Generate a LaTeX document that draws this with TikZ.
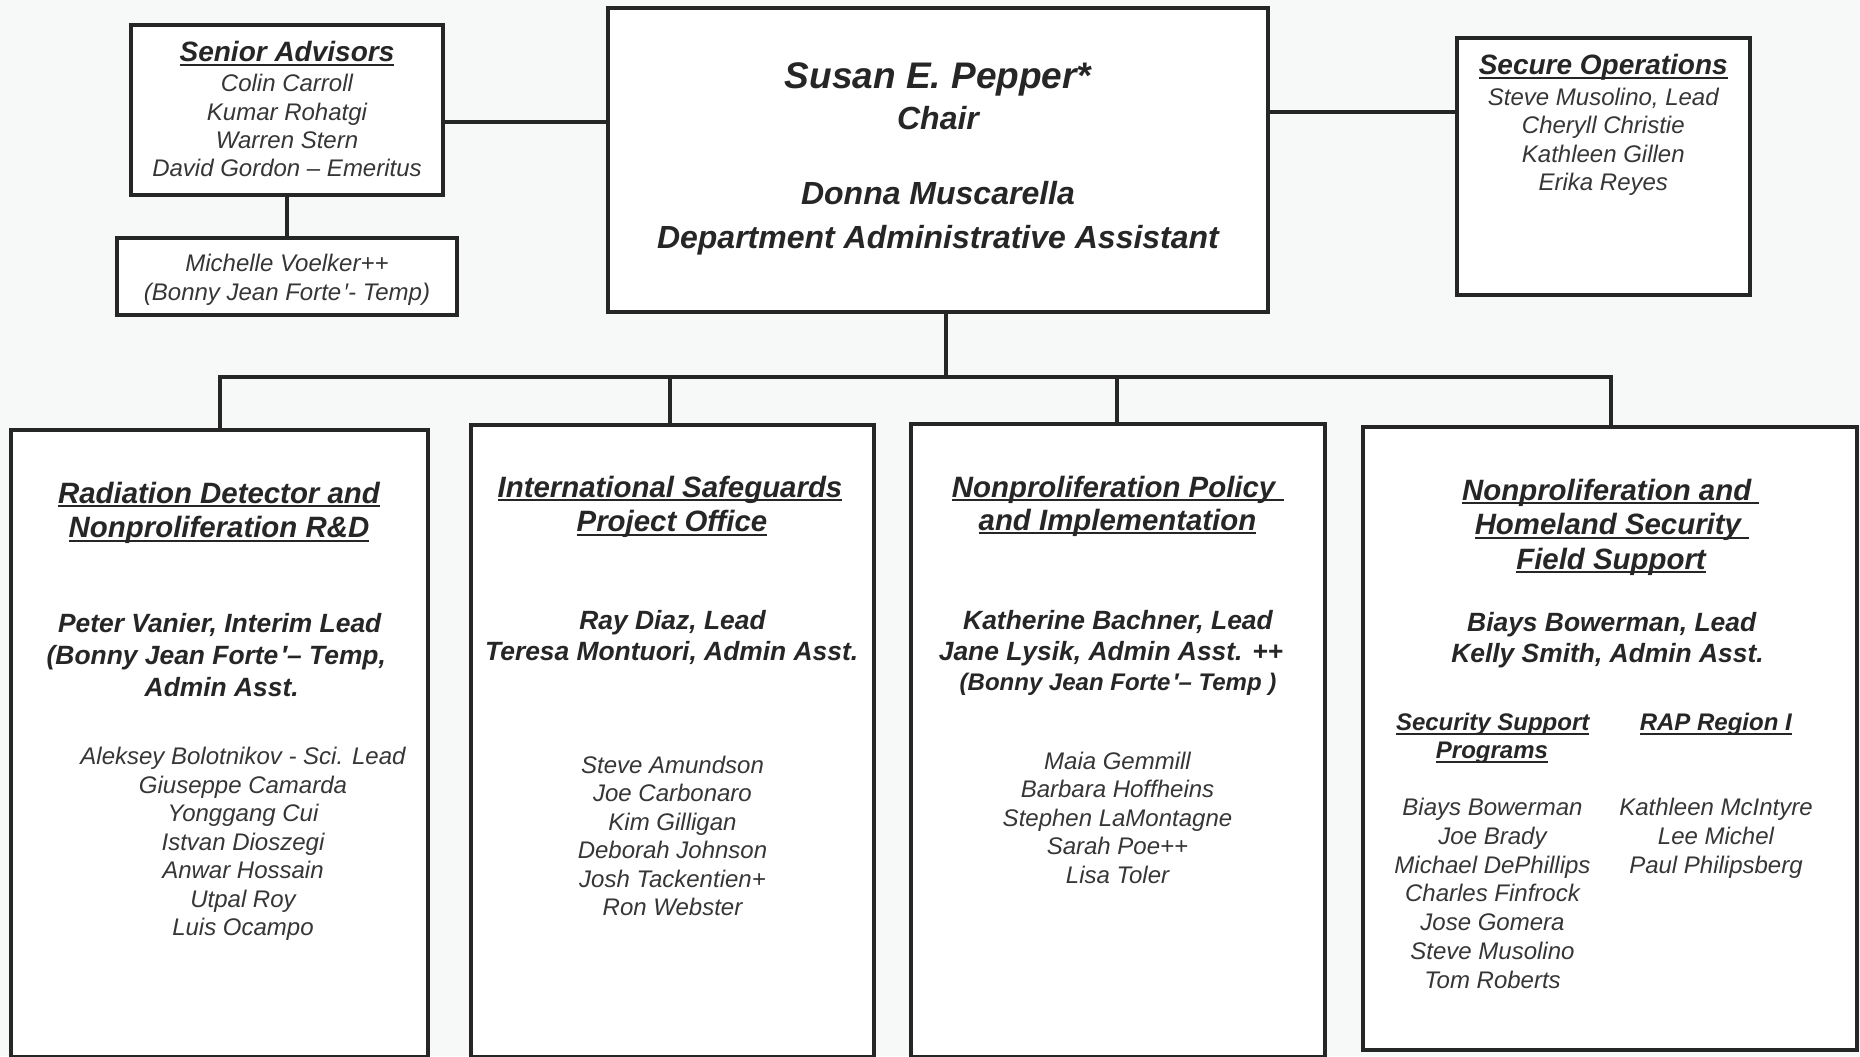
\documentclass[tikz,border=0pt]{standalone}
\usepackage{fontspec}
\setmainfont{Liberation Sans}
\definecolor{ink}{HTML}{262626}
\definecolor{txt}{HTML}{363636}
\definecolor{bgc}{HTML}{F7F8F8}
\newcommand{\ulx}[1]{\setbox0\hbox{#1}\rlap{\rule[-2.1pt]{\wd0}{0.9pt}}\box0}
\newcommand{\frt}{Forte\kern1.2pt′}
\begin{document}
\begin{tikzpicture}[x=0.5pt,y=-0.5pt,
  box/.style={draw=ink, line width=2pt, fill=white, inner sep=0pt, outer sep=0pt},
  con/.style={draw=ink, line width=2pt},
  nm/.style={font=\fontsize{12}{14}\selectfont\itshape, text=txt, anchor=base, inner sep=0pt},
  ld/.style={font=\fontsize{13.2}{15}\selectfont\bfseries\itshape, text=ink, anchor=base, inner sep=0pt},
  hd/.style={font=\fontsize{14.7}{17}\selectfont\bfseries\itshape, text=ink, anchor=base, inner sep=0pt},
  hs/.style={font=\fontsize{14}{16}\selectfont\bfseries\itshape, text=ink, anchor=base, inner sep=0pt},
  sb/.style={font=\fontsize{12}{14}\selectfont\bfseries\itshape, text=ink, anchor=base, inner sep=0pt},
  ch/.style={font=\fontsize{16}{18}\selectfont\bfseries\itshape, text=ink, anchor=base, inner sep=0pt}]
\fill[bgc] (0,0) rectangle (1860,1056);
\useasboundingbox (0,0) rectangle (1860,1056);

% boxes
\node[box, minimum width=156pt, minimum height=85pt] (sa) at (287,110) {};
\node[box, minimum width=170pt, minimum height=38.5pt] (mv) at (287,276.7) {};
\node[box, minimum width=330pt, minimum height=151.7pt] (chair) at (938,160) {};
\node[box, minimum width=146.7pt, minimum height=128.3pt] (so) at (1603.3,166.7) {};
\node[box, minimum width=208.5pt, minimum height=313.5pt] (b1) at (219.5,743.5) {};
\node[box, minimum width=201.5pt, minimum height=316pt] (b2) at (672.5,741) {};
\node[box, minimum width=207pt, minimum height=316.5pt] (b3) at (1117.5,740.5) {};
\node[box, minimum width=247pt, minimum height=311.5pt] (b4) at (1610,738.5) {};

% connectors
\coordinate (ya) at (500,121.7);
\coordinate (yb) at (1350,111.7);
\coordinate (bl) at (219.5,377.3);
\coordinate (bs) at (946,377.3);
\coordinate (b2j) at (670.2,377.3);
\coordinate (b3j) at (1117.3,377.3);
\coordinate (br) at (1611.4,377.3);
\draw[con] (sa.east |- ya) -- (chair.west |- ya);
\draw[con] (chair.east |- yb) -- (so.west |- yb);
\draw[con] (sa.south) -- (mv.north);
\draw[con] (chair.south -| bs) -- (bs);
\draw[con] (b1.north -| bl) -- (bl) -- (br) -- (b4.north -| br);
\draw[con] (b2j) -- (b2.north -| b2j);
\draw[con] (b3j) -- (b3.north -| b3j);

% Senior advisors
\node[hs] (sat) at (287,61.7) {\ulx{Senior Advisors}};
\foreach \t [count=\i] in {Colin Carroll, Kumar Rohatgi, Warren Stern, David Gordon – Emeritus}
  \node[nm, name=san\i] at (287, {91.7+(\i-1)*28.33}) {\t};
\node[nm] (mv1) at (287,271.7) {Michelle Voelker++};
\node[nm] (mv2) at (287,300) {(Bonny Jean \frt- Temp)};

% Chair
\node[ch, font=\fontsize{18.5}{20}\selectfont\bfseries\itshape] (c1) at (938,88.3) {Susan E. Pepper*};
\node[ch] (c2) at (938,129) {Chair};
\node[ch] (c3) at (938,204) {Donna Muscarella};
\node[ch] (c4) at (938,248.3) {Department Administrative Assistant};

% Secure operations
\node[hs] (sot) at (1603.3,74.3) {\ulx{Secure Operations}};
\foreach \t [count=\i] in {{Steve Musolino, Lead}, Cheryll Christie, Kathleen Gillen, Erika Reyes}
  \node[nm, name=son\i] at (1603.3, {105+(\i-1)*28.5}) {\t};

% Box 1
\node[hd] (b1t1) at (219,503) {\ulx{Radiation Detector and}};
\node[hd] (b1t2) at (219,537.6) {\ulx{Nonproliferation R\&D}};
\node[ld] (b1l1) at (219.7,632) {Peter Vanier, Interim Lead};
\node[ld] (b1l2) at (216.3,664) {(Bonny Jean \frt– Temp,};
\node[ld] (b1l3) at (221.7,696) {Admin Asst.};
\foreach \t [count=\i] in {Aleksey Bolotnikov - Sci. Lead, Giuseppe Camarda, Yonggang Cui, Istvan Dioszegi, Anwar Hossain, Utpal Roy, Luis Ocampo}
  \node[nm, name=b1n\i] at (243, {764.8+(\i-1)*28.5}) {\t};

% Box 2
\node[hd] (b2t1) at (670,497) {\ulx{International Safeguards}};
\node[hd] (b2t2) at (672,531.5) {\ulx{Project Office}};
\node[ld] (b2l1) at (672.5,629) {Ray Diaz, Lead};
\node[ld] (b2l2) at (671.7,660) {Teresa Montuori, Admin Asst.};
\foreach \t [count=\i] in {Steve Amundson, Joe Carbonaro, Kim Gilligan, Deborah Johnson, Josh Tackentien+, Ron Webster}
  \node[nm, name=b2n\i] at (672.5, {773+(\i-1)*28.5}) {\t};

% Box 3
\node[hd] (b3t1) at (1117.7,497) {\ulx{Nonproliferation Policy\ }};
\node[hd] (b3t2) at (1117.5,530) {\ulx{and Implementation}};
\node[ld] (b3l1) at (1118,629) {Katherine Bachner, Lead};
\node[ld] (b3l2) at (1111,660) {Jane Lysik, Admin Asst. ++};
\node[sb] (b3l3) at (1118,690) {(Bonny Jean \frt– Temp )};
\foreach \t [count=\i] in {Maia Gemmill, Barbara Hoffheins, Stephen LaMontagne, Sarah Poe++, Lisa Toler}
  \node[nm, name=b3n\i] at (1117.5, {769+(\i-1)*28.5}) {\t};

% Box 4
\node[hd] (b4t1) at (1610.8,500) {\ulx{Nonproliferation and\ }};
\node[hd] (b4t2) at (1612,534.5) {\ulx{Homeland Security\ }};
\node[hd] (b4t3) at (1611,569) {\ulx{Field Support}};
\node[ld] (b4l1) at (1611.7,631) {Biays Bowerman, Lead};
\node[ld] (b4l2) at (1607.5,662) {Kelly Smith, Admin Asst.};
\node[sb] (b4s1) at (1492.7,730.3) {\ulx{Security Support}};
\node[sb] (b4s2) at (1492,758.7) {\ulx{Programs}};
\node[sb] (b4s3) at (1715.8,730.3) {\ulx{RAP Region I}};
\foreach \t [count=\i] in {Biays Bowerman, Joe Brady, Michael DePhillips, Charles Finfrock, Jose Gomera, Steve Musolino, Tom Roberts}
  \node[nm, name=b4n\i] at (1492.5, {815.5+(\i-1)*28.75}) {\t};
\foreach \t [count=\i] in {Kathleen McIntyre, Lee Michel, Paul Philipsberg}
  \node[nm, name=b4r\i] at (1716, {815.5+(\i-1)*28.75}) {\t};
\end{tikzpicture}
\end{document}
